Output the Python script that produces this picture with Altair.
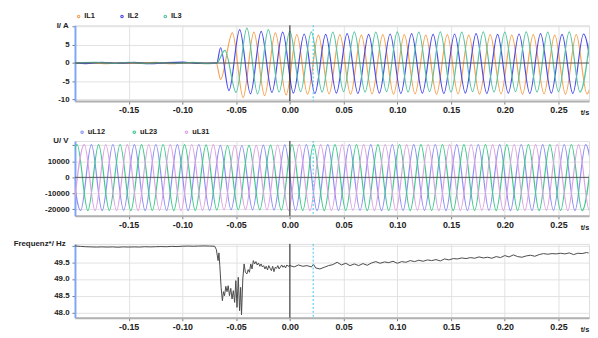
import altair as alt
import pandas as pd

# ---------------- data ----------------
X_DOMAIN = [-0.2, 0.2784]
X_TICKS = [-0.15, -0.10, -0.05, 0.0, 0.05, 0.10, 0.15, 0.20, 0.25]
EVENT_T = [0.0]
CURSOR_T = [0.0217]
ZERO_V = [0.0]

# currents (extrema / sample points), A
cur_series = ["IL1", "IL2", "IL3"]
cur_colors = ["#f7a352", "#4a4aee", "#55c4a2"]

il1_t = [-0.2, -0.185, -0.17, -0.155, -0.14, -0.125, -0.11, -0.095, -0.08, -0.0685,
         -0.0645, -0.0535, -0.0435, -0.0335, -0.0235, -0.0135, -0.0035, 0.0065, 0.0165, 0.0265,
         0.0365, 0.0465, 0.0565, 0.0665, 0.0765, 0.0865, 0.0965, 0.1065, 0.1165, 0.1265,
         0.1365, 0.1465, 0.1565, 0.1665, 0.1765, 0.1865, 0.1965, 0.2065, 0.2165, 0.2265,
         0.2365, 0.2465, 0.2565, 0.2665, 0.2765, 0.2865]
il1_v = [-0.15, 0.1, -0.2, 0.05, -0.1, 0.15, -0.2, 0.1, -0.15, 0.0,
         -4.5, 8.3, -9.5, 8.5, -9.0, 8.3, -8.8, 7.8, -8.6, 7.7,
         -8.5, 7.8, -8.6, 7.7, -8.5, 7.8, -8.6, 7.8, -8.5, 7.7,
         -8.6, 7.8, -8.5, 7.7, -8.6, 7.8, -8.5, 7.7, -8.6, 7.8,
         -8.5, 7.7, -8.6, 7.8, -8.5, 7.7]

il2_t = [-0.2, -0.19, -0.175, -0.16, -0.145, -0.13, -0.115, -0.1, -0.085, -0.068,
         -0.0645, -0.0567, -0.0467, -0.0367, -0.0267, -0.0167, -0.0067, 0.0033, 0.0133, 0.0233,
         0.0333, 0.0433, 0.0533, 0.0633, 0.0733, 0.0833, 0.0933, 0.1033, 0.1133, 0.1233,
         0.1333, 0.1433, 0.1533, 0.1633, 0.1733, 0.1833, 0.1933, 0.2033, 0.2133, 0.2233,
         0.2333, 0.2433, 0.2533, 0.2633, 0.2733, 0.2833]
il2_v = [0.1, -0.15, 0.2, -0.1, 0.15, -0.2, 0.1, 0.25, -0.1, 0.0,
         4.2, -7.6, 9.2, -8.5, 8.7, -8.1, 8.5, -8.3, 8.0, -8.4,
         7.9, -8.3, 8.1, -8.4, 7.9, -8.3, 8.0, -8.4, 8.1, -8.3,
         7.9, -8.4, 8.0, -8.3, 8.1, -8.4, 7.9, -8.3, 8.0, -8.4,
         8.1, -8.3, 7.9, -8.4, 8.0, -8.3]

il3_t = [-0.2, -0.18, -0.165, -0.15, -0.135, -0.12, -0.105, -0.09, -0.075, -0.068,
         -0.0605, -0.05, -0.04, -0.03, -0.02, -0.01, 0.0, 0.01, 0.02, 0.03,
         0.04, 0.05, 0.06, 0.07, 0.08, 0.09, 0.10, 0.11, 0.12, 0.13,
         0.14, 0.15, 0.16, 0.17, 0.18, 0.19, 0.20, 0.21, 0.22, 0.23,
         0.24, 0.25, 0.26, 0.27, 0.28]
il3_v = [0.05, 0.15, -0.1, 0.2, -0.15, 0.1, -0.1, 0.15, -0.2, 0.0,
         3.5, -8.1, 9.6, -8.5, 9.2, -8.0, 8.8, -7.9, 8.6, -8.0,
         8.5, -7.9, 8.6, -8.0, 8.5, -7.9, 8.6, -8.0, 8.5, -7.9,
         8.6, -8.0, 8.5, -7.9, 8.6, -8.0, 8.5, -7.9, 8.6, -8.0,
         8.5, -7.9, 8.6, -8.0, 8.5]

# voltages (extrema), V
volt_series = ["uL12", "uL23", "uL31"]
volt_colors = ["#8f8ff7", "#3fca8c", "#dca3e3"]

ul12_t = [-0.2047, -0.1947, -0.1847, -0.1747, -0.1647, -0.1547, -0.1447, -0.1347, -0.1247, -0.1147,
          -0.1047, -0.0947, -0.0847, -0.0747, -0.0647, -0.0547, -0.0447, -0.0347, -0.0247, -0.0147,
          -0.0047, 0.0053, 0.0153, 0.0253, 0.0353, 0.0453, 0.0553, 0.0653, 0.0753, 0.0853,
          0.0953, 0.1053, 0.1153, 0.1253, 0.1353, 0.1453, 0.1553, 0.1653, 0.1753, 0.1853,
          0.1953, 0.2053, 0.2153, 0.2253, 0.2353, 0.2453, 0.2553, 0.2653, 0.2753, 0.2853]
ul12_v = [20500, -20700, 20400, -20800, 20500, -20600, 20400, -20800, 20500, -20700,
          20400, -20800, 20500, -20600, 20000, -20200, 19900, -20300, 20100, -20400,
          20300, -20700, 20500, -20800, 20400, -20700, 20500, -20600, 20400, -20800,
          20500, -20700, 20400, -20600, 20500, -20800, 20400, -20700, 20500, -20600,
          20400, -20800, 20500, -20700, 20400, -20600, 20500, -20800, 20400, -20700]

ul23_t = [-0.208, -0.198, -0.188, -0.178, -0.168, -0.158, -0.148, -0.138, -0.128, -0.118,
          -0.108, -0.098, -0.088, -0.078, -0.068, -0.058, -0.048, -0.038, -0.028, -0.018,
          -0.008, 0.002, 0.012, 0.022, 0.032, 0.042, 0.052, 0.062, 0.072, 0.082,
          0.092, 0.102, 0.112, 0.122, 0.132, 0.142, 0.152, 0.162, 0.172, 0.182,
          0.192, 0.202, 0.212, 0.222, 0.232, 0.242, 0.252, 0.262, 0.272, 0.282]
ul23_v = [-20700, 20500, -20800, 20400, -20700, 20500, -20800, 20400, -20700, 20500,
          -20800, 20400, -20700, 20300, -20400, 19900, -20200, 20000, -20300, 20100,
          -20500, 20400, -20700, 20500, -20800, 20400, -20700, 20500, -20800, 20400,
          -20700, 20500, -20800, 20400, -20700, 20500, -20800, 20400, -20700, 20500,
          -20800, 20400, -20700, 20500, -20800, 20400, -20700, 20500, -20800, 20400]

ul31_t = [-0.2013, -0.1913, -0.1813, -0.1713, -0.1613, -0.1513, -0.1413, -0.1313, -0.1213, -0.1113,
          -0.1013, -0.0913, -0.0813, -0.0713, -0.0613, -0.0513, -0.0413, -0.0313, -0.0213, -0.0113,
          -0.0013, 0.0087, 0.0187, 0.0287, 0.0387, 0.0487, 0.0587, 0.0687, 0.0787, 0.0887,
          0.0987, 0.1087, 0.1187, 0.1287, 0.1387, 0.1487, 0.1587, 0.1687, 0.1787, 0.1887,
          0.1987, 0.2087, 0.2187, 0.2287, 0.2387, 0.2487, 0.2587, 0.2687, 0.2787, 0.2887]
ul31_v = [-20600, 20400, -20800, 20500, -20700, 20400, -20800, 20500, -20600, 20400,
          -20800, 20500, -20700, 20400, -20300, 19800, -20100, 20000, -20300, 20200,
          -20600, 20500, -20800, 20400, -20700, 20500, -20600, 20400, -20800, 20500,
          -20700, 20400, -20600, 20500, -20800, 20400, -20700, 20500, -20600, 20400,
          -20800, 20500, -20700, 20400, -20600, 20500, -20800, 20400, -20700, 20500]

# frequency, Hz
freq_t = [-0.200, -0.195, -0.190, -0.185, -0.180, -0.175, -0.170, -0.165, -0.160, -0.155,
          -0.150, -0.145, -0.140, -0.135, -0.130, -0.125, -0.120, -0.115, -0.110, -0.105,
          -0.100, -0.095, -0.090, -0.085, -0.080, -0.075,
          -0.0700, -0.0684, -0.0668, -0.0660, -0.0652, -0.0640, -0.0628, -0.0618, -0.0608, -0.0596,
          -0.0585, -0.0574, -0.0562, -0.0550, -0.0538, -0.0526, -0.0514, -0.0503, -0.0492, -0.0480,
          -0.0468, -0.0458, -0.0450, -0.0438, -0.0426, -0.0414, -0.0400, -0.0388, -0.0376, -0.0364,
          -0.0352, -0.0340, -0.0328, -0.0316, -0.0304, -0.0292, -0.0280, -0.0268, -0.0256, -0.0244,
          -0.0232, -0.0220, -0.0208, -0.0196, -0.0184, -0.0172, -0.0160, -0.0148, -0.0136, -0.0124,
          -0.0112, -0.0100, -0.0088, -0.0076, -0.0064, -0.0052, -0.0040, -0.0028, -0.0016,
          0.000, 0.004, 0.008, 0.012, 0.016, 0.020, 0.022, 0.024, 0.028, 0.032,
          0.036, 0.040, 0.044, 0.048, 0.052, 0.056, 0.060, 0.064, 0.068, 0.072,
          0.076, 0.080, 0.084, 0.088, 0.092, 0.096, 0.100, 0.104, 0.108, 0.112,
          0.116, 0.120, 0.124, 0.128, 0.132, 0.136, 0.140, 0.144, 0.148, 0.152,
          0.156, 0.160, 0.164, 0.168, 0.172, 0.176, 0.180, 0.184, 0.188, 0.192,
          0.196, 0.200, 0.204, 0.208, 0.212, 0.216, 0.220, 0.224, 0.228, 0.232,
          0.236, 0.240, 0.244, 0.248, 0.252, 0.256, 0.260, 0.264, 0.268, 0.272,
          0.276, 0.278]
freq_v = [49.99, 49.975, 49.965, 49.96, 49.955, 49.96, 49.955, 49.96, 49.95, 49.96,
          49.955, 49.96, 49.955, 49.965, 49.96, 49.965, 49.97, 49.965, 49.975, 49.97,
          49.98, 49.985, 49.98, 49.985, 49.99, 49.985,
          49.98, 49.88, 49.55, 49.78, 49.40, 48.75, 48.35, 48.62, 48.50, 48.78,
          48.62, 48.80, 48.50, 48.72, 48.40, 48.65, 48.30, 48.95, 48.15, 49.05,
          48.05, 48.75, 47.93, 49.00, 49.45, 49.20, 49.15, 49.28, 49.20, 49.45,
          49.30, 49.55, 49.45, 49.52, 49.42, 49.48, 49.38, 49.45, 49.36, 49.40,
          49.30, 49.38, 49.27, 49.40, 49.32, 49.25, 49.38, 49.22, 49.35, 49.32,
          49.40, 49.30, 49.36, 49.42, 49.35, 49.40, 49.33, 49.42, 49.38,
          49.40, 49.36, 49.42, 49.38, 49.40, 49.36, 49.44, 49.33, 49.30, 49.35,
          49.40, 49.43, 49.50, 49.42, 49.47, 49.40, 49.45, 49.40, 49.46, 49.41,
          49.48, 49.52, 49.47, 49.51, 49.49, 49.53, 49.47, 49.52, 49.50, 49.55,
          49.52, 49.56, 49.53, 49.57, 49.55, 49.58, 49.54, 49.60, 49.57, 49.61,
          49.60, 49.63, 49.61, 49.64, 49.62, 49.66, 49.63, 49.65, 49.62, 49.67,
          49.64, 49.70, 49.66, 49.72, 49.67, 49.65, 49.69, 49.71, 49.68, 49.73,
          49.76, 49.74, 49.76, 49.75, 49.77, 49.75, 49.78, 49.73, 49.77, 49.76,
          49.79, 49.78]

# ---------------- tables ----------------
cur_df = pd.concat([
    pd.DataFrame({"t": il1_t, "v": il1_v, "series": "IL1"}),
    pd.DataFrame({"t": il2_t, "v": il2_v, "series": "IL2"}),
    pd.DataFrame({"t": il3_t, "v": il3_v, "series": "IL3"}),
], ignore_index=True)
volt_df = pd.concat([
    pd.DataFrame({"t": ul12_t, "v": ul12_v, "series": "uL12"}),
    pd.DataFrame({"t": ul23_t, "v": ul23_v, "series": "uL23"}),
    pd.DataFrame({"t": ul31_t, "v": ul31_v, "series": "uL31"}),
], ignore_index=True)
freq_df = pd.DataFrame({"t": freq_t, "v": freq_v})
zero_df = pd.DataFrame({"v": ZERO_V})
event_df = pd.DataFrame({"t": EVENT_T})
cursor_df = pd.DataFrame({"t": CURSOR_T})

W = 522
FONT = "Liberation Sans"
NEG = "(datum.value < 0 ? '-' : '') + format(abs(datum.value), '{f}')"


def x_enc():
    return alt.X(
        "t:Q",
        scale=alt.Scale(domain=X_DOMAIN, nice=False, zero=False),
        axis=alt.Axis(
            values=X_TICKS,
            labelExpr=NEG.format(f=".2f"),
            title="t/s", titleX=513, titleY=12, titleAlign="left", titleBaseline="middle",
            titleFontSize=7.5, titleFontWeight="bold", titleColor="#222",
            labelFontSize=9, labelFontWeight="bold", labelColor="#222", labelPadding=2,
            domainColor="#b0b0b0", domainWidth=2, tickColor="#777", tickSize=3,
            gridColor="#e2e2e2", labelOverlap=False, labelFlush=False,
        ),
    )


def y_enc(cfg):
    domain, values, top, fmt, title, title_x = cfg
    return alt.Y(
        "v:Q",
        scale=alt.Scale(domain=domain, nice=False, zero=False),
        axis=alt.Axis(
            values=values,
            labelExpr="datum.value == %s ? '' : " % top + NEG.format(f=fmt),
            title=title, titleAngle=0, titleX=title_x, titleY=0, titleAlign="right",
            titleBaseline="middle", titleFontSize=8, titleFontWeight="bold", titleColor="#222",
            labelFontSize=8, labelFontWeight="bold", labelColor="#222", labelPadding=3,
            domainColor="#7fa6f6", domainWidth=2, tickColor="#777", tickSize=3,
            gridColor="#e2e2e2", labelOverlap=False, labelFlush=False,
        ),
    )


def markers(ycfg, zero=True):
    layers = []
    if zero:
        layers.append(alt.Chart(zero_df).mark_rule(color="#555", strokeWidth=1)
                      .encode(y=y_enc(ycfg)))
    layers.append(alt.Chart(event_df).mark_rule(color="#222", strokeWidth=1)
                  .encode(x=x_enc()))
    layers.append(alt.Chart(cursor_df)
                  .mark_rule(color="#3ec3f2", strokeWidth=1, strokeDash=[2, 2])
                  .encode(x=x_enc()))
    return layers


def legend(pad, lpad, ly):
    return alt.Legend(
        orient="none", legendX=0, legendY=ly, direction="horizontal", title=None,
        symbolType="circle", symbolSize=6, symbolStrokeWidth=1.2, labelFontSize=7.5,
        labelFontWeight="bold", labelColor="#222", labelOffset=2, columnPadding=pad,
        labelFont=FONT, padding=lpad,
    )


CUR_Y = ([-10.5, 10.4], [-10, -5, 0, 5, 10], 10, "d", "I/ A", -7)
VOLT_Y = ([-24000, 22700], [-20000, -10000, 0, 10000, 20000], 20000, "d", "U/ V", -7)
FREQ_Y = ([47.84, 50.05], [48.0, 48.5, 49.0, 49.5, 50.0], 50, ".1f", "Frequenz*/ Hz", -10)

cur_lines = alt.Chart(cur_df).mark_line(strokeWidth=1.2, interpolate="monotone", clip=True).encode(
    x=x_enc(),
    y=y_enc(CUR_Y),
    color=alt.Color("series:N", scale=alt.Scale(domain=cur_series, range=cur_colors),
                    legend=legend(23, 0, -13)),
)
p1 = alt.layer(cur_lines, *markers(CUR_Y, True)).properties(width=W, height=77)

volt_lines = alt.Chart(volt_df).mark_line(strokeWidth=1.2, interpolate="monotone", clip=True).encode(
    x=x_enc(),
    y=y_enc(VOLT_Y),
    color=alt.Color("series:N", scale=alt.Scale(domain=volt_series, range=volt_colors),
                    legend=legend(25, 3.5, -16.5)),
)
p2 = alt.layer(volt_lines, *markers(VOLT_Y, True)).properties(width=W, height=76)

freq_line = alt.Chart(freq_df).mark_line(strokeWidth=1, color="#4a4a4a", clip=True).encode(
    x=x_enc(),
    y=y_enc(FREQ_Y),
)
p3 = alt.layer(freq_line, *markers(FREQ_Y, False)).properties(width=W, height=75)

chart = (
    alt.vconcat(p1, p2, p3, spacing=7.5)
    .resolve_scale(color="independent", x="independent", y="independent")
    .properties(padding={"left": 4, "top": 1, "right": 0, "bottom": 0}, background="white")
    .configure_view(stroke=None)
    .configure(font=FONT)
)

chart.save("out.html", embed_options={"renderer": "svg", "actions": False})
